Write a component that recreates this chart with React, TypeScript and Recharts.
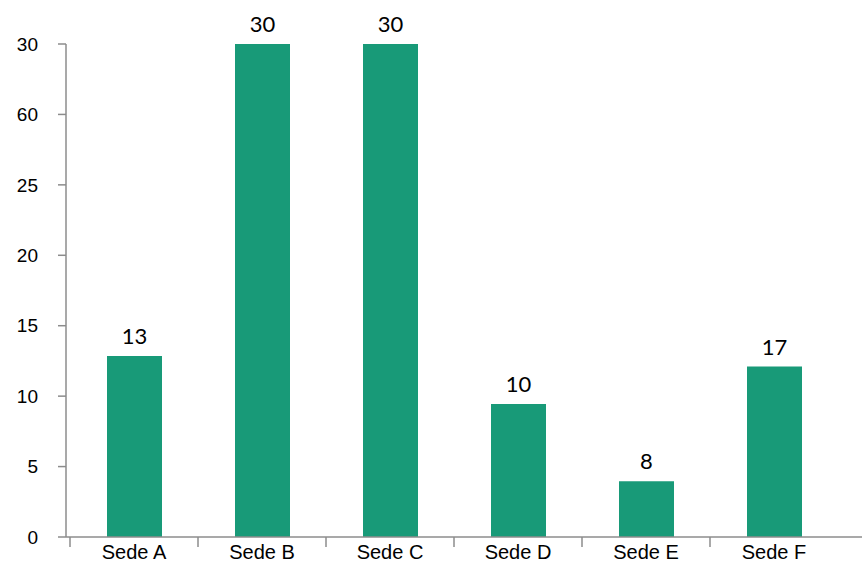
import React from 'react';
import { BarChart, Bar, XAxis, YAxis, LabelList } from 'recharts';

const categories = ['Sede A', 'Sede B', 'Sede C', 'Sede D', 'Sede E', 'Sede F'];
const barValues = [12.85, 35, 35, 9.45, 3.95, 12.1];
const barLabels = ['13', '30', '30', '10', '8', '17'];
const yTicks = [0, 5, 10, 15, 20, 25, 30, 35];
const yTickLabels = ['0', '5', '10', '15', '20', '25', '60', '30'];

const data = categories.map((c, i) => ({ name: c, value: barValues[i], label: barLabels[i] }));

const AXIS = '#8c8c8c';

const XTick = (props: any) => {
  const { x, y, payload } = props;
  const band = 128;
  const left = x - band / 2;
  return (
    <g>
      <line x1={left} y1={y} x2={left} y2={y + 10} stroke={AXIS} strokeWidth={1.5} />
      <text x={x} y={y + 22} textAnchor="middle" fontFamily="'Liberation Sans', Arial, sans-serif" fontSize={20} fill="#000">
        {payload.value}
      </text>
    </g>
  );
};

export default function App() {
  return (
    <div style={{ position: 'absolute', left: 0, top: 0, width: 865, height: 564, background: '#fff' }}>
      <BarChart width={865} height={564} data={data} margin={{ top: 44, right: 3, bottom: 0, left: 0 }} barSize={55}>
        <XAxis
          dataKey="name"
          padding={{ left: 4, right: 24 }}
          stroke={AXIS}
          strokeWidth={1.5}
          tickLine={false}
          tickSize={0}
          tickMargin={0}
          tick={<XTick />}
          height={27}
          interval={0}
        />
        <YAxis
          type="number"
          domain={[0, 35]}
          ticks={yTicks}
          interval={0}
          width={66}
          stroke={AXIS}
          strokeWidth={1.5}
          tickSize={8}
          tickMargin={20}
          tickFormatter={(v: number) => yTickLabels[yTicks.indexOf(v)]}
          tick={{ fill: '#000', fontSize: 19, fontFamily: "'Liberation Sans', Arial, sans-serif" }}
        />
        <Bar dataKey="value" fill="#189a78" isAnimationActive={false}>
          <LabelList dataKey="label" position="top" offset={12} fill="#000" fontSize={22} fontFamily="Lato, 'Open Sans', sans-serif" />
        </Bar>
      </BarChart>
    </div>
  );
}
